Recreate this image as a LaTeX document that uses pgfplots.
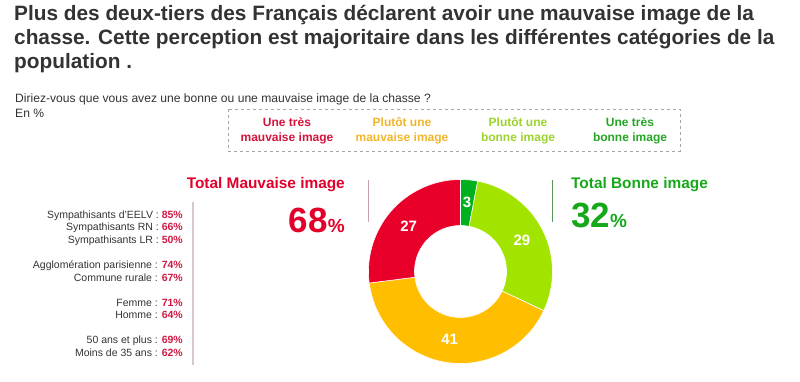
\documentclass[border=0pt]{standalone}
\usepackage{fontspec}
\setmainfont{Liberation Sans}
\usepackage{pgfplots}
\pgfplotsset{compat=1.18}
\usetikzlibrary{calc}
\definecolor{cR}{HTML}{E8002A}
\definecolor{cO}{HTML}{FFBF00}
\definecolor{cL}{HTML}{A2E400}
\definecolor{cD}{HTML}{00B01E}
\definecolor{txt}{HTML}{333333}
\definecolor{tR}{HTML}{E2002B}
\definecolor{tG}{HTML}{17A81A}
\definecolor{lR}{HTML}{D4143C}
\definecolor{lO}{HTML}{F2B52A}
\definecolor{lL}{HTML}{9CD22E}
\definecolor{lD}{HTML}{24A524}
\definecolor{vR}{HTML}{D01842}
\newcommand\donutfont{\fontsize{15}{15}\selectfont\bfseries}
\begin{document}
\begin{tikzpicture}[x=1pt,y=1pt]
\path[use as bounding box] (0,0) rectangle (800,381);
% title
\begin{scope}[every node/.style={anchor=base west,inner sep=0pt,text=txt,font=\fontsize{20.8}{24}\selectfont\bfseries}]
\node at (14,360) {Plus des deux-tiers des Français déclarent avoir une mauvaise image de la};
\node at (14,336) {chasse. Cette perception est majoritaire dans les différentes catégories de la};
\node at (14,312) {population .};
\end{scope}
\node[anchor=base west,inner sep=0pt,text=txt,font=\fontsize{12.1}{13}\selectfont] at (15,279) {Diriez-vous que vous avez une bonne ou une mauvaise image de la chasse ?};
\node[anchor=base west,inner sep=0pt,text=txt,font=\fontsize{12.1}{13}\selectfont] at (15,264) {En \%};
% legend box
\draw[gray!70,dashed,line width=1pt] (228,272) rectangle (680,230);
\begin{scope}[every node/.style={align=center,inner sep=0pt,font=\fontsize{12}{15}\selectfont\bfseries}]
\node[text=lR] at (287,250) {Une très\\mauvaise image};
\node[text=lO] at (402,250) {Plutôt une\\mauvaise image};
\node[text=lL] at (518,250) {Plutôt une\\bonne image};
\node[text=lD] at (630,250) {Une très\\bonne image};
\end{scope}
% totals
\node[anchor=base east,inner sep=0pt,text=tR,font=\fontsize{15.4}{18}\selectfont\bfseries] at (345,193) {Total Mauvaise image};
\node[anchor=base east,inner sep=0pt,text=tR] at (345,149) {{\fontsize{35}{35}\selectfont\bfseries 68}{\fontsize{19}{19}\selectfont\bfseries\%}};
\node[anchor=base west,inner sep=0pt,text=tG,font=\fontsize{15.4}{18}\selectfont\bfseries] at (571,193) {Total Bonne image};
\node[anchor=base west,inner sep=0pt,text=tG] at (571,154) {{\fontsize{35}{35}\selectfont\bfseries 32}{\fontsize{19}{19}\selectfont\bfseries\%}};
% separator lines
\draw[color={rgb,255:red,215;green,200;blue,202},line width=1.2pt] (193,179) -- (193,16);
\draw[color={rgb,255:red,200;green,160;blue,168},line width=1pt] (368,201) -- (368,159);
\draw[color={rgb,255:red,90;green,150;blue,90},line width=1pt] (552,201) -- (552,159);
% left list
\begin{scope}[every node/.style={anchor=base east,inner sep=0pt,text=txt,font=\fontsize{10.5}{12}\selectfont}]
\node at (183,162.5) {Sympathisants d’EELV : \textcolor{vR}{\bfseries 85\%}};
\node at (183,150.5) {Sympathisants RN : \textcolor{vR}{\bfseries 66\%}};
\node at (183,137.5) {Sympathisants LR : \textcolor{vR}{\bfseries 50\%}};
\node at (183,112.5) {Agglomération parisienne : \textcolor{vR}{\bfseries 74\%}};
\node at (183,99.5) {Commune rurale : \textcolor{vR}{\bfseries 67\%}};
\node at (183,74.5) {Femme : \textcolor{vR}{\bfseries 71\%}};
\node at (183,62.5) {Homme : \textcolor{vR}{\bfseries 64\%}};
\node at (183,37.5) {50 ans et plus : \textcolor{vR}{\bfseries 69\%}};
\node at (183,24.5) {Moins de 35 ans : \textcolor{vR}{\bfseries 62\%}};
\end{scope}
% donut
\begin{axis}[at={(460.5,109.5)},anchor=center,x=1pt,y=1pt,xmin=-100,xmax=100,ymin=-100,ymax=100,hide axis,clip=false]
\def\angstart{90}
\pgfplotsforeachungrouped \v/\c in {3/cD,29/cL,41/cO,27/cR}{%
  \pgfmathsetmacro\angend{\angstart-3.6*\v}%
  \pgfmathsetmacro\angmid{(\angstart+\angend)/2}%
  \edef\cmd{\noexpand\fill[\c,draw=white,line width=0.6pt] ($(axis cs:0,0)+(\angstart:92pt)$) arc[start angle=\angstart,end angle=\angend,radius=92pt] -- ($(axis cs:0,0)+(\angend:46pt)$) arc[start angle=\angend,end angle=\angstart,radius=46pt] -- cycle;
  \noexpand\node[text=white,font=\noexpand\donutfont] at ($(axis cs:0,0)+(\angmid:69pt)$) {\v};}%
  \cmd
  \global\let\angstart\angend
}
\end{axis}
\end{tikzpicture}
\end{document}
